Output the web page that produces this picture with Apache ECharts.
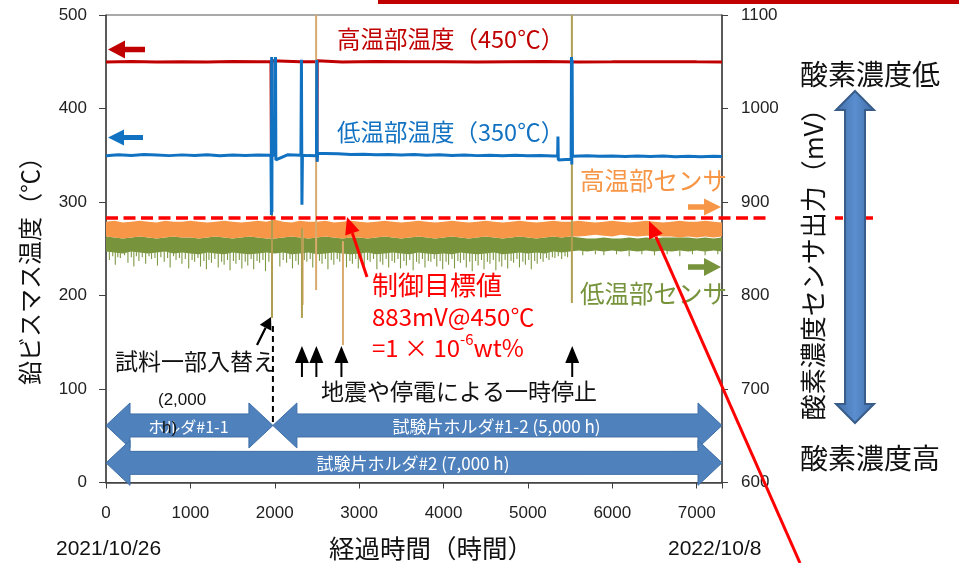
<!DOCTYPE html>
<html>
<head>
<meta charset="utf-8">
<title>鉛ビスマス温度と酸素濃度センサ出力の推移</title>
<script src="https://cdn.jsdelivr.net/npm/echarts/dist/echarts.min.js"></script>
<style>
  html, body { margin: 0; padding: 0; background: #fff; }
  #chart { width: 959px; height: 563px; }
</style>
</head>
<body>
<div id="chart"></div>
<script>
// ---- 経過時間の軸 ----
const xTicks = [0, 1000, 2000, 3000, 4000, 5000, 6000, 7000];
const tempTicks = [0, 100, 200, 300, 400, 500];
const mvTicks = [600, 700, 800, 900, 1000, 1100];

// ---- 高温部温度 [時間, ℃] ----
const highTemp = [
  [0, 449.6], [300, 450.2], [600, 449.8], [900, 450.1], [1200, 449.7], [1500, 450.2],
  [1800, 449.9], [1955, 450], [1960, 348], [1965, 451], [1972, 450], [2300, 450.1],
  [2495, 450], [2499, 344], [2503, 451], [2508, 450], [2800, 449.8], [3200, 450.2],
  [3600, 449.9], [4000, 450.1], [4400, 449.7], [4800, 450], [5200, 450.2], [5600, 449.8],
  [6000, 449.9], [6400, 450.1], [6700, 450], [6720, 451.5], [6760, 450], [7000, 449.9],
  [7300, 449.8]
];

// ---- 低温部温度 [時間, ℃] ----
const lowTemp = [
  [0, 349.5], [150, 350.5], [300, 349.8], [450, 350.8], [600, 350.2], [750, 349.6],
  [900, 350.4], [1050, 349.8], [1200, 350.6], [1350, 349.5], [1500, 350.2], [1650, 349.7],
  [1800, 350.3], [1955, 350], [1960, 286], [1963, 455], [1966, 289], [1969, 453],
  [1972, 350], [2005, 350], [2009, 455], [2013, 345], [2150, 350.5], [2310, 350],
  [2316, 452], [2322, 297], [2328, 350], [2400, 349.6], [2494, 349.5], [2498, 452],
  [2502, 343], [2508, 352], [2600, 352], [2750, 351.5], [2900, 350.8], [3050, 351.2],
  [3200, 350.5], [3350, 350.9], [3500, 350.2], [3650, 350.7], [3800, 350.1], [3950, 350.5],
  [4100, 349.8], [4250, 350.3], [4400, 349.6], [4550, 350.1], [4700, 349.5], [4850, 349.9],
  [5000, 349.4], [5150, 349.8], [5300, 349.3], [5352, 349.5], [5356, 370], [5360, 345],
  [5450, 345.5], [5512, 345.5], [5516, 455], [5520, 340], [5524, 452], [5528, 349],
  [5700, 349.5], [5850, 348.8], [6000, 349.3], [6150, 348.7], [6300, 349.2], [6450, 348.6],
  [6600, 349.1], [6750, 348.5], [6900, 349], [7050, 348.4], [7200, 348.9], [7300, 348.6]
];

// ---- センサ出力の帯 (mV) ----
const bandHours = [
  0, 100, 200, 300, 400, 500, 600, 700, 800, 900,
  1000, 1100, 1200, 1300, 1400, 1500, 1600, 1700, 1800, 1900,
  2000, 2100, 2200, 2300, 2400, 2500, 2600, 2700, 2800, 2900,
  3000, 3100, 3200, 3300, 3400, 3500, 3600, 3700, 3800, 3900,
  4000, 4100, 4200, 4300, 4400, 4500, 4600, 4700, 4800, 4900,
  5000, 5100, 5200, 5300, 5400, 5500, 5600, 5700, 5800, 5900,
  6000, 6100, 6200, 6300, 6400, 6500, 6600, 6700, 6800, 6900,
  7000, 7100, 7200, 7300
];
// 高温部センサ: 上端
const hotSensorTop = [
  879, 880, 878, 879, 880, 879, 878, 880, 879, 879,
  880, 879, 878, 879, 880, 879, 878, 879, 880, 879,
  881, 879, 878, 880, 879, 879, 880, 878, 879, 880,
  879, 878, 879, 880, 879, 878, 879, 880, 879, 878,
  879, 880, 879, 878, 879, 880, 879, 878, 879, 880,
  879, 878, 879, 880, 879, 879, 880, 879, 878, 879,
  880, 879, 878, 879, 880, 879, 878, 879, 880, 879,
  879, 880, 879, 878
];
// 高温部センサ: 下端
const hotSensorLow = [
  863, 862, 861, 862, 863, 862, 861, 862, 863, 862,
  862, 861, 862, 863, 862, 861, 862, 863, 862, 861,
  861, 862, 863, 862, 861, 862, 863, 862, 861, 862,
  862, 861, 862, 863, 862, 861, 862, 863, 862, 861,
  862, 863, 862, 861, 862, 863, 862, 861, 862, 863,
  862, 861, 862, 863, 862, 863, 863, 864, 865, 864,
  863, 865, 864, 863, 864, 864, 863, 863, 862, 863,
  862, 863, 862, 863
];
// 低温部センサ: 上端
const coldSensorTop = [
  863, 862, 861, 862, 863, 862, 861, 862, 863, 862,
  862, 861, 862, 863, 862, 861, 862, 863, 862, 861,
  861, 862, 863, 862, 861, 862, 863, 862, 861, 862,
  862, 861, 862, 863, 862, 861, 862, 863, 862, 861,
  862, 863, 862, 861, 862, 863, 862, 861, 862, 863,
  862, 861, 862, 863, 862, 863, 862, 861, 861, 862,
  861, 861, 862, 861, 862, 861, 862, 862, 862, 862,
  861, 862, 861, 862
];
// 低温部センサ: 下端
const coldSensorLow = [
  847, 846, 845, 847, 846, 845, 846, 847, 845, 846,
  845, 844, 846, 845, 844, 846, 845, 844, 845, 846,
  845, 846, 844, 845, 846, 844, 845, 846, 845, 844,
  845, 846, 844, 845, 846, 845, 844, 846, 845, 844,
  845, 844, 846, 845, 844, 845, 846, 844, 845, 846,
  845, 846, 845, 847, 846, 847, 848, 847, 848, 847,
  848, 847, 848, 847, 848, 847, 848, 847, 848, 847,
  848, 847, 848, 847
];
// 低温部センサのノイズ下振れ [時間, mV]
const coldSensorDips = [
  [40, 838], [80, 842], [110, 833], [140, 841], [170, 840], [220, 843], [260, 835], [300, 841],
  [330, 831], [360, 842], [390, 837], [430, 841], [470, 834], [510, 842], [540, 839], [580, 840],
  [610, 832], [650, 841], [690, 836], [730, 840], [760, 830], [800, 842], [830, 838], [870, 840],
  [900, 834], [940, 839], [980, 829], [1020, 838], [1050, 836], [1090, 840], [1120, 831], [1160, 837],
  [1190, 828], [1220, 838], [1250, 835], [1290, 839], [1330, 830], [1370, 836], [1400, 833], [1440, 838],
  [1470, 827], [1510, 837], [1540, 834], [1580, 838], [1610, 829], [1650, 836], [1680, 832], [1720, 839],
  [1750, 828], [1790, 837], [1820, 835], [1860, 838], [1890, 826], [1930, 836], [2060, 831], [2100, 838],
  [2140, 835], [2180, 839], [2210, 829], [2250, 837], [2280, 833], [2350, 838], [2380, 836], [2420, 839],
  [2450, 830], [2530, 837], [2560, 834], [2600, 839], [2630, 828], [2670, 838], [2700, 833], [2740, 839],
  [2770, 836], [2810, 838], [2850, 830], [2890, 837], [2920, 834], [2960, 839], [2990, 829], [3030, 837],
  [3060, 832], [3100, 838], [3130, 836], [3170, 839], [3210, 828], [3250, 836], [3280, 833], [3320, 839],
  [3350, 830], [3390, 837], [3420, 835], [3460, 839], [3490, 829], [3530, 837], [3560, 832], [3600, 838],
  [3640, 827], [3680, 836], [3710, 834], [3750, 839], [3780, 830], [3820, 837], [3850, 836], [3890, 839],
  [3920, 831], [3960, 837], [3990, 828], [4030, 836], [4060, 833], [4100, 839], [4130, 829], [4170, 837],
  [4200, 835], [4240, 838], [4270, 830], [4310, 836], [4340, 826], [4380, 837], [4410, 832], [4450, 838],
  [4480, 828], [4520, 836], [4550, 834], [4590, 838], [4620, 827], [4660, 836], [4690, 831], [4730, 838],
  [4760, 829], [4800, 837], [4830, 835], [4870, 839], [4900, 830], [4940, 836], [4970, 833], [5010, 838],
  [5040, 828], [5080, 837], [5110, 834], [5150, 839], [5180, 836], [5220, 840], [5250, 838], [5290, 841],
  [5320, 840], [5360, 842], [5400, 839], [5440, 842], [5470, 841], [5650, 843], [5800, 844], [5900, 843],
  [6050, 844], [6200, 842], [6350, 844], [6500, 843], [6650, 844], [6800, 842], [6950, 844], [7100, 843],
  [7250, 844]
];
// 停止時のセンサ出力変動 [時間, 最低mV, 最高mV]
const hotSensorEvents = [[2330, 790, 870], [2490, 806, 1100], [2808, 747, 858]];
const coldSensorEvents = [[1967, 776, 889], [2322, 776, 872], [5521, 792, 1100]];

// 制御目標値
const targetMv = 883;

// 試験片ホルダ期間 [開始時間, 終了時間, 表示位置(℃)]
const holderSpans = [[0, 1978, 61], [1978, 7300, 61], [0, 7300, 21]];
const holderLabels = ['ホルダ#1-1', '試験片ホルダ#1-2 (5,000 h)', '試験片ホルダ#2 (7,000 h)'];

// ---------------------------------------------------------------
const JP = '"Noto Sans CJK JP", "Noto Sans", sans-serif';
const NUM = '"Liberation Sans", Arial, sans-serif';

// 上端・下端の配列から帯を描く
function bandRender(lowArr, highArr, color) {
  return function (params, api) {
    const pts = [];
    for (let i = 0; i < bandHours.length; i++) pts.push(api.coord([bandHours[i], highArr[i]]));
    for (let i = bandHours.length - 1; i >= 0; i--) pts.push(api.coord([bandHours[i], lowArr[i]]));
    return { type: 'polygon', shape: { points: pts }, style: { fill: color } };
  };
}

function vLineRender(color, width, topFromData, fixedTop) {
  return function (params, api) {
    const h = api.value(0);
    const lo = api.value(1);
    const hi = topFromData ? api.value(2) : fixedTop;
    const a = api.coord([h, hi]);
    const b = api.coord([h, lo]);
    return {
      type: 'line',
      shape: { x1: a[0], y1: a[1], x2: b[0], y2: b[1] },
      style: { stroke: color, lineWidth: width }
    };
  };
}

const chart = echarts.init(document.getElementById('chart'));

const axisColor = '#404040';
const labelColor = '#222';

const option = {
  animation: false,
  backgroundColor: '#fff',
  grid: { left: 106, right: 237, top: 15, bottom: 80.5, show: true, borderColor: '#555', borderWidth: 1 },
  xAxis: {
    type: 'value', min: 0, max: 7300, interval: 1000,
    axisLine: { show: true, onZero: false, lineStyle: { color: axisColor, width: 1.5 } },
    axisTick: { show: true, length: 6, lineStyle: { color: axisColor } },
    axisLabel: {
      fontSize: 17, color: labelColor, margin: 22, fontFamily: NUM,
      formatter: v => (xTicks.includes(v) ? String(v) : '')
    },
    splitLine: { show: false }
  },
  yAxis: [
    {
      type: 'value', min: 0, max: 500, interval: 100,
      axisLine: { show: true, lineStyle: { color: axisColor, width: 1.5 } },
      axisTick: { show: true, length: 7, lineStyle: { color: axisColor } },
      axisLabel: { fontSize: 17, color: labelColor, margin: 19, fontFamily: NUM,
        formatter: v => (tempTicks.includes(v) ? String(v) : '') },
      splitLine: { show: false }
    },
    {
      type: 'value', min: 600, max: 1100, interval: 100, position: 'right',
      axisLine: { show: true, lineStyle: { color: axisColor, width: 1.5 } },
      axisTick: { show: true, length: 6, lineStyle: { color: axisColor } },
      axisLabel: { fontSize: 17, color: labelColor, margin: 19, fontFamily: NUM,
        formatter: v => (mvTicks.includes(v) ? String(v) : '') },
      splitLine: { show: false }
    }
  ],
  series: [
    { name: '低温部センサ', type: 'custom', yAxisIndex: 1, silent: true, z: 1,
      renderItem: bandRender(coldSensorLow, coldSensorTop, '#77933c'), data: [[0, 850]] },
    { name: '高温部センサ', type: 'custom', yAxisIndex: 1, silent: true, z: 1,
      renderItem: bandRender(hotSensorLow, hotSensorTop, '#f79646'), data: [[0, 870]] },
    { name: '低温部センサ変動', type: 'custom', yAxisIndex: 1, silent: true, z: 2,
      renderItem: vLineRender('#7e9944', 1.1, false, 848), data: coldSensorDips },
    { name: '高温部温度', type: 'line', yAxisIndex: 0, symbol: 'none', silent: true, z: 3,
      lineStyle: { color: '#c00000', width: 3 }, data: highTemp },
    { name: '高温部センサ停止', type: 'custom', yAxisIndex: 1, silent: true, z: 4,
      renderItem: vLineRender('#d9aa6e', 2, true), data: hotSensorEvents },
    { name: '低温部センサ停止', type: 'custom', yAxisIndex: 1, silent: true, z: 4,
      renderItem: vLineRender('#b09f52', 2, true), data: coldSensorEvents },
    { name: '低温部温度', type: 'line', yAxisIndex: 0, symbol: 'none', silent: true, z: 5,
      lineStyle: { color: '#1272c2', width: 3 }, data: lowTemp },
    { name: '試験片ホルダ', type: 'custom', yAxisIndex: 0, silent: true, z: 6, clip: false,
      renderItem: function (params, api) {
        const a = api.coord([api.value(0), api.value(2)]);
        const b = api.coord([api.value(1), api.value(2)]);
        const x0 = a[0], x1 = b[0], yc = a[1];
        const hl = 24, hh = 22.5, bh = 11.5;
        return {
          type: 'group',
          children: [
            { type: 'polygon',
              shape: { points: [
                [x0, yc], [x0 + hl, yc - hh], [x0 + hl, yc - bh], [x1 - hl, yc - bh], [x1 - hl, yc - hh],
                [x1, yc], [x1 - hl, yc + hh], [x1 - hl, yc + bh], [x0 + hl, yc + bh], [x0 + hl, yc + hh]
              ] },
              style: { fill: '#4f81bd', stroke: '#3e6fa6', lineWidth: 1 } },
            { type: 'text', x: (x0 + x1) / 2 - 1, y: yc + 1,
              style: { text: holderLabels[params.dataIndex], fill: '#fff',
                font: (params.dataIndex === 0 ? '16px ' : '17px ') + JP, align: 'center', verticalAlign: 'middle' } }
          ]
        };
      },
      data: holderSpans }
  ]
};

chart.setOption(option);

// ---- 注記 ----
const canvas = document.createElement('canvas');
const ctx = canvas.getContext('2d');
function textWidth(t, font) { ctx.font = font; return ctx.measureText(t).width; }

function txt(t, x, y, font, fill, align, extra) {
  return Object.assign({ type: 'text', x: x, y: y, z: 100,
    style: { text: t, font: font, fill: fill, align: align || 'left', verticalAlign: 'middle' } }, extra || {});
}
function blockArrowH(x0, x1, yc, shaftHalf, headHalf, headLen, color, dir) {
  // dir -1: 左向き, +1: 右向き
  let pts;
  if (dir < 0) {
    pts = [[x0, yc], [x0 + headLen, yc - headHalf], [x0 + headLen, yc - shaftHalf], [x1, yc - shaftHalf],
      [x1, yc + shaftHalf], [x0 + headLen, yc + shaftHalf], [x0 + headLen, yc + headHalf]];
  } else {
    pts = [[x1, yc], [x1 - headLen, yc - headHalf], [x1 - headLen, yc - shaftHalf], [x0, yc - shaftHalf],
      [x0, yc + shaftHalf], [x1 - headLen, yc + shaftHalf], [x1 - headLen, yc + headHalf]];
  }
  return { type: 'polygon', z: 100, shape: { points: pts }, style: { fill: color } };
}
function pointer(x1, y1, x2, y2, color, width, headLen, headHalf) {
  // (x1,y1) → (x2,y2) の先端に矢じり
  const ang = Math.atan2(y2 - y1, x2 - x1);
  const bx = x2 - headLen * Math.cos(ang), by = y2 - headLen * Math.sin(ang);
  const nx = -Math.sin(ang) * headHalf, ny = Math.cos(ang) * headHalf;
  return [
    { type: 'line', z: 100, shape: { x1: x1, y1: y1, x2: bx, y2: by }, style: { stroke: color, lineWidth: width } },
    { type: 'polygon', z: 100, shape: { points: [[x2, y2], [bx + nx, by + ny], [bx - nx, by - ny]] }, style: { fill: color } }
  ];
}

const yTarget = chart.convertToPixel({ yAxisIndex: 1 }, targetMv);
const xAt = h => chart.convertToPixel({ xAxisIndex: 0 }, h);

const g = [];
// 上部の帯
g.push({ type: 'rect', z: 100, shape: { x: 378, y: 0, width: 581, height: 4 }, style: { fill: '#c00000' } });

// 制御目標値の破線
g.push({ type: 'line', z: 90, shape: { x1: xAt(0), y1: yTarget, x2: 771, y2: yTarget },
  style: { stroke: '#ff0000', lineWidth: 3.5, lineDash: [12, 5.5] } });
g.push({ type: 'line', z: 90, shape: { x1: 835, y1: yTarget, x2: 873, y2: yTarget },
  style: { stroke: '#ff0000', lineWidth: 3.5, lineDash: [8, 22] } });

// 系列の軸を示す矢印
g.push(blockArrowH(108, 145, 49.5, 2.7, 9, 17, '#c00000', -1));
g.push(blockArrowH(108, 143, 137.5, 2.5, 8, 16, '#1272c2', -1));
g.push(blockArrowH(688, 721, 207, 2.7, 8.5, 17, '#f79646', 1));
g.push(blockArrowH(688, 721, 267, 2.7, 9, 17, '#77933c', 1));

// 系列名
g.push(txt('高温部温度（450℃）', 337, 39, '23.5px ' + JP, '#c00000'));
g.push(txt('低温部温度（350℃）', 337, 132, '23.5px ' + JP, '#1272c2'));
g.push(txt('高温部センサ', 580, 181, '24.5px ' + JP, '#f79646'));
g.push(txt('低温部センサ', 580, 294, '24.5px ' + JP, '#77933c'));

// 制御目標値の説明
g.push(txt('制御目標値', 372, 285, '26px ' + JP, '#ff0000'));
g.push(txt('883mV@450℃', 372, 317, '24px ' + JP, '#ff0000'));
const f1 = '24px ' + JP, f2 = '15px ' + JP;
const w1 = textWidth('=1 × 10', f1), w2 = textWidth('-6', f2);
g.push(txt('=1 × 10', 372, 348, f1, '#ff0000'));
g.push(txt('-6', 372 + w1, 339, f2, '#ff0000'));
g.push(txt('wt%', 372 + w1 + w2, 348, f1, '#ff0000'));
g.push.apply(g, pointer(367, 277, 347, 217, '#ff0000', 3, 17, 7.5));
g.push.apply(g, pointer(800, 563, 649, 221, '#ff0000', 3, 17, 7.5));

// 試料一部入替え
g.push(txt('試料一部入替え', 115, 361, '23px ' + JP, '#111'));
g.push.apply(g, pointer(257, 345, 271, 317, '#000', 2.2, 12, 6.5));
g.push({ type: 'line', z: 100, shape: { x1: xAt(1978), y1: 326, x2: xAt(1978), y2: 426 },
  style: { stroke: '#000', lineWidth: 2, lineDash: [6, 4] } });

// 地震や停電による一時停止
[2322, 2493, 2790, 5525].forEach(h => {
  const x = xAt(h);
  g.push.apply(g, pointer(x, 377, x, 346, '#000', 2, 17, 7));
});
g.push(txt('地震や停電による一時停止', 321, 391, '23px ' + JP, '#111'));

// ホルダ#1-1 の期間表記
g.push(txt('(2,000', 158, 400, '17px ' + NUM, '#111'));
g.push(txt('h)', 162, 428, '17px ' + NUM, '#111'));

// 右側: 酸素濃度の向き
g.push({ type: 'polygon', z: 100,
  shape: { points: [[855, 91], [874, 110], [865, 110], [865, 404], [874, 404], [855, 423], [836, 404],
    [845, 404], [845, 110], [836, 110]] },
  style: { fill: new echarts.graphic.LinearGradient(0, 0, 1, 0, [
      { offset: 0, color: '#416da6' }, { offset: 0.5, color: '#5a8ed0' }, { offset: 1, color: '#416da6' }]),
    stroke: '#385d8a', lineWidth: 2 } });
g.push(txt('酸素濃度低', 870, 74, '28px ' + JP, '#111', 'center'));
g.push(txt('酸素濃度高', 870, 458, '28px ' + JP, '#111', 'center'));

// 軸名
g.push(txt('酸素濃度センサ出力（mV）', 813, 258, '26px ' + JP, '#111', 'center', { rotation: Math.PI / 2 }));
g.push(txt('鉛ビスマス温度（℃）', 30, 265, '24px ' + JP, '#111', 'center', { rotation: Math.PI / 2 }));
g.push(txt('経過時間（時間）', 431, 548, '25.5px ' + JP, '#111', 'center'));

// 期間の日付
g.push(txt('2021/10/26', 56, 549, '21px ' + NUM, '#111'));
g.push(txt('2022/10/8', 668, 549, '21px ' + NUM, '#111'));

chart.setOption({ graphic: g });
</script>
</body>
</html>
